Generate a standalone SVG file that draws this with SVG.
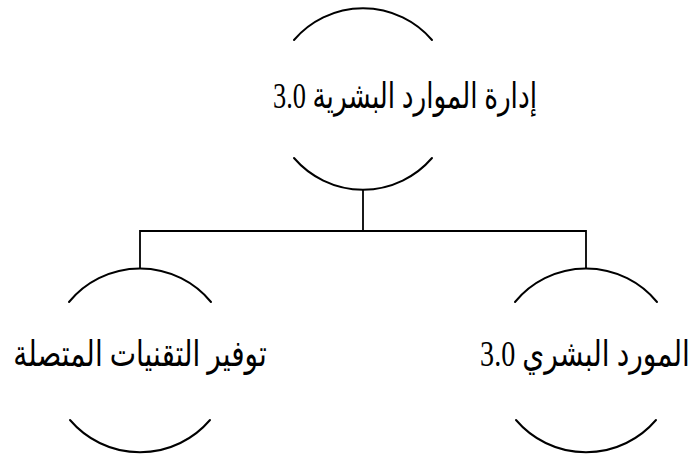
<svg xmlns="http://www.w3.org/2000/svg" width="696" height="458" viewBox="0 0 696 458">
  <style>
    .arc { fill: none; stroke: #000; stroke-width: 2; stroke-linecap: round; }
    .link { fill: none; stroke: #000; stroke-width: 1.8; }
    .label { font-family: "Liberation Serif", "DejaVu Sans", serif; font-size: 36px; fill: #000; text-anchor: middle; direction: rtl; }
  </style>
  <rect width="696" height="458" fill="#fff"/>

  <!-- connectors -->
  <g id="connectors">
    <path class="link" d="M363,190 V231"/>
    <path class="link" d="M140,268 V231 H586 V268"/>
  </g>

  <!-- root node -->
  <g id="node-root">
    <path class="arc" d="M294,40 A91,91 0 0 1 432,40"/>
    <path class="arc" d="M294,158 A91,91 0 0 0 432,158"/>
    <text class="label" transform="translate(405,108) scale(0.733,1)" x="0" y="0" textLength="360" lengthAdjust="spacingAndGlyphs">إدارة الموارد البشرية 3.0</text>
  </g>

  <!-- left child -->
  <g id="node-tech">
    <path class="arc" d="M69,302 A92,92 0 0 1 211,302"/>
    <path class="arc" d="M70,420 A92,92 0 0 0 210,420"/>
    <text class="label" transform="translate(140,366) scale(0.79,1)" x="0" y="0" textLength="321" lengthAdjust="spacingAndGlyphs">توفير التقنيات المتصلة</text>
  </g>

  <!-- right child -->
  <g id="node-human">
    <path class="arc" d="M515,302 A92,92 0 0 1 657,302"/>
    <path class="arc" d="M516,420 A92,92 0 0 0 656,420"/>
    <text class="label" transform="translate(585,366) scale(0.78,1)" x="0" y="0" textLength="269" lengthAdjust="spacingAndGlyphs">المورد البشري 3.0</text>
  </g>
</svg>
